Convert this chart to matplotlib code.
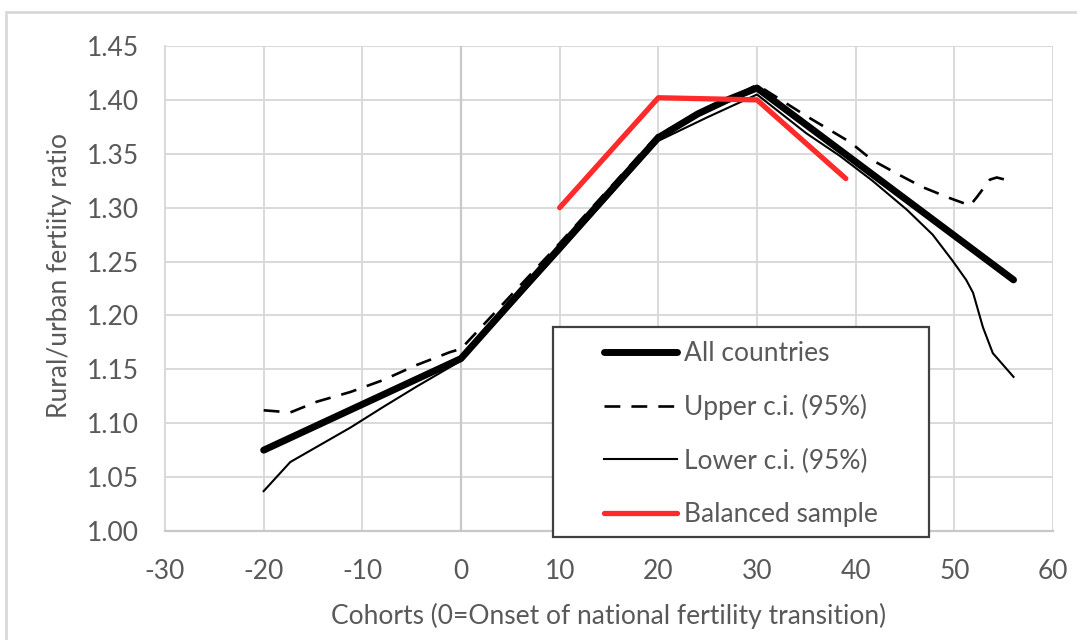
import matplotlib
matplotlib.use("Agg")
import matplotlib.pyplot as plt
from matplotlib.patches import Rectangle
from matplotlib.lines import Line2D

plt.rcParams['font.family'] = ['Lato', 'DejaVu Sans']
plt.rcParams['axes.unicode_minus'] = False

# ---- data ----
all_x = [-20, 0, 10, 20, 24, 27, 30, 56]
all_y = [1.075, 1.160, 1.263, 1.365, 1.387, 1.400, 1.411, 1.233]

upper_x = [-20, -17.3, -14.6, -11.2, -7.9, -4.5, -1.1, 0, 10, 20, 25, 30, 35, 39.4, 41.7,
           44.5, 46.8, 49.5, 51.6, 52.3, 53.6, 54.3, 56]
upper_y = [1.112, 1.110, 1.120, 1.129, 1.140, 1.154, 1.166, 1.169, 1.267, 1.368, 1.391, 1.414,
           1.385, 1.361, 1.344, 1.330, 1.319, 1.309, 1.302, 1.310, 1.326, 1.328, 1.324]

lower_x = [-20, -17.3, -11.2, -7.9, -4.5, 0, 10, 20, 25, 30, 35, 38.4, 41.7, 45.2, 47.8,
           49.8, 51.2, 51.9, 52.9, 53.9, 56]
lower_y = [1.037, 1.064, 1.096, 1.115, 1.134, 1.158, 1.259, 1.362, 1.384, 1.405, 1.369,
           1.348, 1.325, 1.298, 1.275, 1.251, 1.233, 1.221, 1.189, 1.165, 1.143]

bal_x = [10, 20, 30, 39]
bal_y = [1.300, 1.402, 1.400, 1.327]

xticks = list(range(-30, 61, 10))
yticks = [1.00, 1.05, 1.10, 1.15, 1.20, 1.25, 1.30, 1.35, 1.40, 1.45]
labels = ['All countries', 'Upper c.i. (95%)', 'Lower c.i. (95%)', 'Balanced sample']

W, H = 1077, 640
fig = plt.figure(figsize=(W / 100, H / 100), dpi=100)
ax = fig.add_axes([165 / W, 1 - 531 / H, (1053 - 165) / W, (531 - 46) / H])

txt = '#595959'
grid = '#d9d9d9'
fs = 19
dash = (6, 4.2)

ax.plot(upper_x, upper_y, color='black', lw=1.9, dashes=dash, zorder=3)
ax.plot(lower_x, lower_y, color='black', lw=1.5, zorder=3)
ax.plot(all_x, all_y, color='black', lw=5, solid_capstyle='round', zorder=3)
ax.plot(bal_x, bal_y, color='#ff2a2a', lw=3.8, solid_capstyle='round', zorder=4)

ax.set_xlim(-30, 60)
ax.set_ylim(1.0, 1.45)
ax.set_xticks(xticks)
ax.set_yticks(yticks)
ax.set_yticklabels([f'{v:.2f}' for v in yticks])
ax.grid(True, color=grid, lw=1.4)
ax.set_axisbelow(True)
ax.axvline(0, color='#c8c8c8', lw=1.6, zorder=1)
for s in ['top', 'right']:
    ax.spines[s].set_visible(False)
ax.spines['left'].set_color(grid)
ax.spines['left'].set_linewidth(1.4)
ax.spines['bottom'].set_color('#c8c8c8')
ax.spines['bottom'].set_linewidth(1.6)
ax.tick_params(length=0, labelsize=fs, labelcolor=txt)
ax.tick_params(axis='x', pad=20)
ax.tick_params(axis='y', pad=19)

ax.set_xlabel('Cohorts (0=Onset of national fertility transition)', fontsize=fs, color=txt, labelpad=14)
ax.set_ylabel('Rural/urban fertiity ratio', fontsize=fs, color=txt)
ax.yaxis.set_label_coords(-0.105, 0.526)

# legend box
box = Rectangle((553 / W, 1 - 537 / H), (929 - 553) / W, (537 - 327) / H,
                transform=fig.transFigure, facecolor='white', edgecolor='#404040',
                lw=1.6, zorder=6, clip_on=False)
ax.add_artist(box)
handles = [Line2D([], [], color='black', lw=5, solid_capstyle='round'),
           Line2D([], [], color='black', lw=1.9, dashes=dash),
           Line2D([], [], color='black', lw=1.5),
           Line2D([], [], color='#ff2a2a', lw=3.8, solid_capstyle='round')]
leg = ax.legend(handles, labels, loc='upper left', bbox_to_anchor=(604 / W, 1 - 341 / H),
                bbox_transform=fig.transFigure, frameon=False, fontsize=fs,
                labelcolor=txt, handlelength=2.75, handletextpad=0.28, labelspacing=1.07,
                borderpad=0, borderaxespad=0)
leg.set_zorder(7)

# outer frame of the source document
fig.patches.append(Rectangle((6 / W, -0.1), 1.2, 1 - 12 / H + 0.1, transform=fig.transFigure,
                             fill=False, edgecolor='#d9d9d9', lw=2))

fig.savefig('out.png', dpi=100)
